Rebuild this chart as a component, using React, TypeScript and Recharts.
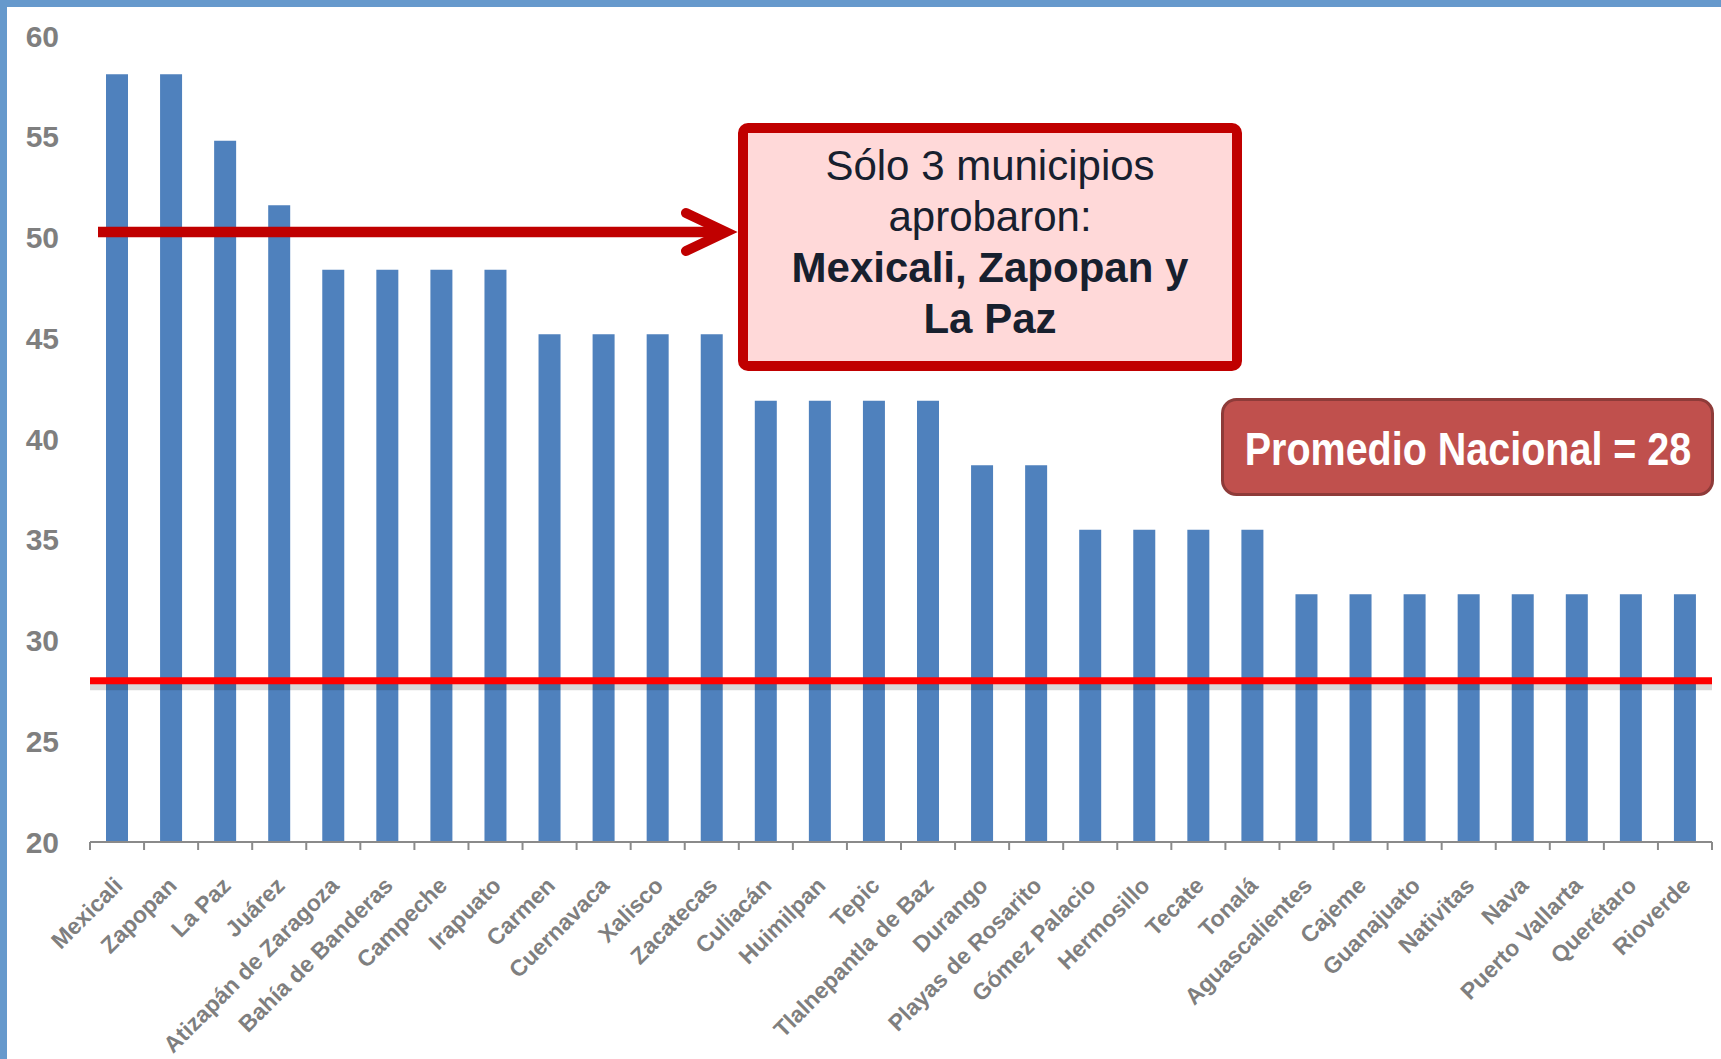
import { BarChart, Bar, XAxis, YAxis, ReferenceLine } from "recharts";

const categories = [
  "Mexicali", "Zapopan", "La Paz", "Juárez", "Atizapán de Zaragoza",
  "Bahía de Banderas", "Campeche", "Irapuato", "Carmen", "Cuernavaca",
  "Xalisco", "Zacatecas", "Culiacán", "Huimilpan", "Tepic",
  "Tlalnepantla de Baz", "Durango", "Playas de Rosarito", "Gómez Palacio", "Hermosillo",
  "Tecate", "Tonalá", "Aguascalientes", "Cajeme", "Guanajuato",
  "Nativitas", "Nava", "Puerto Vallarta", "Querétaro", "Rioverde",
];

const scores = [
  58.1, 58.1, 54.8, 51.6, 48.4,
  48.4, 48.4, 48.4, 45.2, 45.2,
  45.2, 45.2, 41.9, 41.9, 41.9,
  41.9, 38.7, 38.7, 35.5, 35.5,
  35.5, 35.5, 32.3, 32.3, 32.3,
  32.3, 32.3, 32.3, 32.3, 32.3,
];

const yTicks = [20, 25, 30, 35, 40, 45, 50, 55, 60];
const nationalAverage = 28;

const noteLines = ["Sólo 3 municipios", "aprobaron:"];
const noteBoldLines = ["Mexicali, Zapopan y", "La Paz"];
const averageLabel = "Promedio Nacional = 28";

const data = categories.map((name, i) => ({ name, score: scores[i] }));

const W = 1721;
const H = 1059;
const PLOT_LEFT = 90;
const PLOT_RIGHT = 1712;
const BAND = (PLOT_RIGHT - PLOT_LEFT) / categories.length;
const AXIS_GRAY = "#8a8a8a";
const LABEL_GRAY = "#7f7f7f";
const FONT = "'Liberation Sans', Arial, sans-serif";

function CategoryTick(props: any) {
  const { x, y, payload, index } = props;
  const i = payload?.index ?? index;
  const half = BAND / 2;
  const tx = x + 7;
  const ty = y + 45;
  return (
    <g>
      <line x1={x - half} y1={y} x2={x - half} y2={y + 8} stroke={AXIS_GRAY} strokeWidth={2} />
      {i === categories.length - 1 && (
        <line x1={x + half} y1={y} x2={x + half} y2={y + 8} stroke={AXIS_GRAY} strokeWidth={2} />
      )}
      <text
        x={tx}
        y={ty}
        transform={`rotate(-45 ${tx} ${ty})`}
        textAnchor="end"
        fill={LABEL_GRAY}
        fontFamily={FONT}
        fontWeight="bold"
        fontSize={23}
      >
        {payload.value}
      </text>
    </g>
  );
}

export default function App() {
  return (
    <div
      style={{
        position: "absolute",
        left: 0,
        top: 0,
        width: W,
        height: H,
        background: "#ffffff",
        overflow: "hidden",
      }}
    >
      <BarChart
        width={W}
        height={H}
        data={data}
        margin={{ top: 36, right: W - PLOT_RIGHT, bottom: 17, left: 0 }}
      >
        <XAxis
          dataKey="name"
          interval={0}
          height={200}
          tickLine={false}
          tickSize={0}
          tickMargin={0}
          axisLine={{ stroke: AXIS_GRAY, strokeWidth: 2 }}
          tick={<CategoryTick />}
        />
        <YAxis
          width={PLOT_LEFT}
          domain={[20, 60]}
          ticks={yTicks}
          allowDataOverflow
          axisLine={false}
          tickLine={false}
          tickSize={0}
          tickMargin={31}
          tick={{
            fill: LABEL_GRAY,
            fontSize: 30,
            fontWeight: "bold",
            fontFamily: FONT,
          }}
        />
        <Bar dataKey="score" fill="#4F81BD" barSize={22} isAnimationActive={false} />
        <ReferenceLine y={nationalAverage - 0.3} stroke="rgba(0,0,0,0.15)" strokeWidth={7} />
        <ReferenceLine y={nationalAverage} stroke="#FF0000" strokeWidth={7} />
      </BarChart>

      <svg
        width={W}
        height={H}
        style={{ position: "absolute", left: 0, top: 0, pointerEvents: "none" }}
      >
        {/* frame */}
        <rect x={0} y={0} width={W} height={7} fill="#6699CC" />
        <rect x={0} y={0} width={7} height={H} fill="#6699CC" />

        {/* arrow at 50 */}
        <line x1={98} y1={232} x2={722} y2={232} stroke="#C00000" strokeWidth={10.5} />
        <polyline
          points="686,213 726,232 686,251"
          fill="none"
          stroke="#C00000"
          strokeWidth={10}
          strokeLinecap="round"
          strokeLinejoin="miter"
        />

        {/* note box */}
        <rect
          x={743}
          y={128}
          width={494}
          height={238}
          rx={5}
          fill="#FFD9D9"
          stroke="#C00000"
          strokeWidth={10}
        />
        {noteLines.map((t, i) => (
          <text
            key={t}
            x={990}
            y={165 + i * 51}
            textAnchor="middle"
            dominantBaseline="central"
            fontFamily={FONT}
            fontSize={42}
            fill="#17202E"
          >
            {t}
          </text>
        ))}
        {noteBoldLines.map((t, i) => (
          <text
            key={t}
            x={990}
            y={267 + i * 51}
            textAnchor="middle"
            dominantBaseline="central"
            fontFamily={FONT}
            fontWeight="bold"
            fontSize={42}
            fill="#17202E"
          >
            {t}
          </text>
        ))}

        {/* national average badge */}
        <rect
          x={1222.5}
          y={399.5}
          width={490}
          height={95}
          rx={14}
          fill="#C0504D"
          stroke="#8E3B39"
          strokeWidth={3}
        />
        <text
          x={0}
          y={0}
          transform="translate(1468 449) scale(1 1.18)"
          textAnchor="middle"
          dominantBaseline="central"
          fontFamily={FONT}
          fontWeight="bold"
          fontSize={39.5}
          fill="#ffffff"
        >
          {averageLabel}
        </text>
      </svg>
    </div>
  );
}
